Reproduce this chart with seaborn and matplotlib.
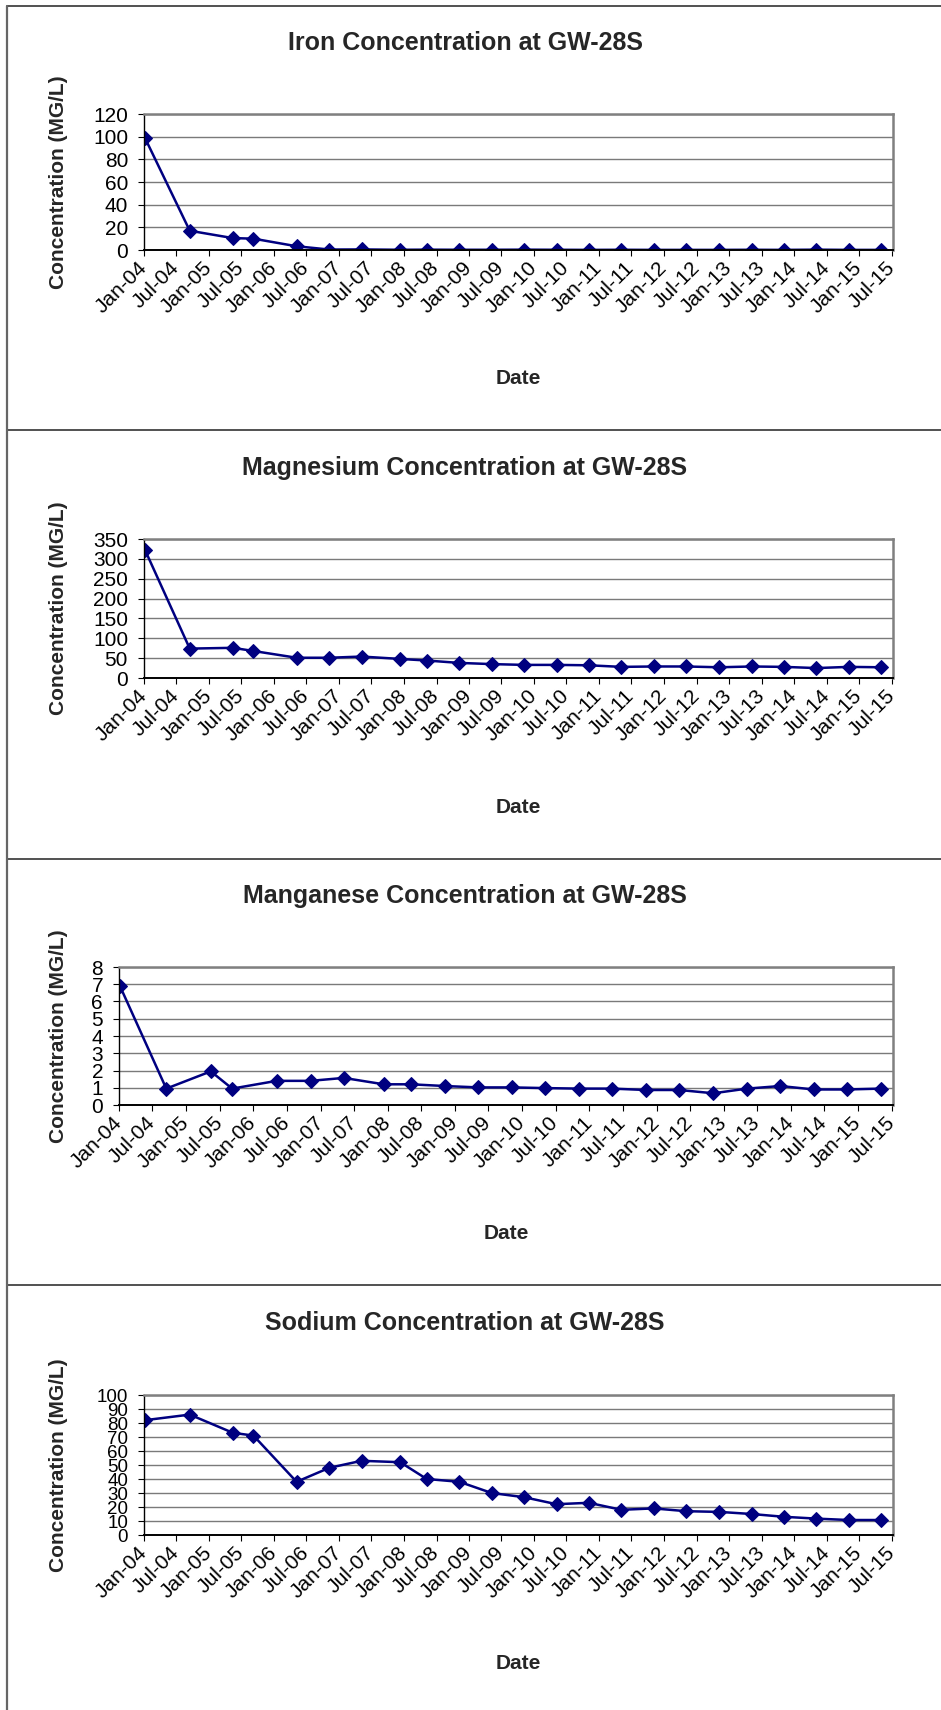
import matplotlib
matplotlib.use("Agg")
import matplotlib.pyplot as plt
from matplotlib.lines import Line2D
import pandas as pd
import seaborn as sns

# ---------------- data ----------------
sample_dates = ["2004-01-06", "2004-09-14", "2005-05-14", "2005-09-07", "2006-05-07",
                "2006-11-07", "2007-05-07", "2007-12-10", "2008-05-07", "2008-11-06",
                "2009-05-07", "2009-11-05", "2010-05-06", "2010-11-04", "2011-05-05",
                "2011-11-03", "2012-05-03", "2012-11-05", "2013-05-06", "2013-11-04",
                "2014-05-05", "2014-11-03", "2015-05-04"]

iron = [99, 17, 10.5, 10, 3.3, 0.4, 0.5, 0.2, 0.3, 0.2, 0.2, 0.3, 0.2, 0.1, 0.2,
        0.1, 0.1, 0.1, 0.2, 0.1, 0.3, 0.1, 0.1]
magnesium = [323, 74, 76, 68, 51, 51, 54, 48, 44, 38, 35, 33, 33, 32, 28,
             29, 29, 27, 29, 28, 25, 28, 27]
manganese = [6.9, 0.95, 1.95, 0.95, 1.4, 1.4, 1.57, 1.2, 1.2, 1.1, 1.02, 1.02, 0.98,
             0.95, 0.95, 0.87, 0.87, 0.68, 0.95, 1.1, 0.9, 0.9, 0.95]
sodium = [82, 86, 73, 71, 38, 48, 53, 52, 40, 38, 30, 27, 22, 23, 18, 19, 17, 16.5,
          15, 13, 11.7, 10.7, 10.7]

titles = ["Iron Concentration at GW-28S", "Magnesium Concentration at GW-28S",
          "Manganese Concentration at GW-28S", "Sodium Concentration at GW-28S"]
y_max = [120, 350, 8, 100]
y_step = [20, 50, 1, 10]
y_label = "Concentration (MG/L)"
x_label = "Date"
tick_start, tick_end = "2004-01-01", "2015-07-01"

# ---------------- style ----------------
sns.set_style("white")
plt.rcParams['font.family'] = ['Liberation Sans', 'DejaVu Sans']

W, H = 941, 1710
fig = plt.figure(figsize=(W / 100, H / 100), dpi=100)

# panel layout in pixels: axes left, top, bottom ; title y ; date y ; y tick size
layout = [
    dict(left=144, top=114, bottom=250, title_y=43, date_y=378, ysize=15),
    dict(left=144, top=539, bottom=678, title_y=468, date_y=807, ysize=15),
    dict(left=119, top=967, bottom=1105, title_y=896, date_y=1233, ysize=15),
    dict(left=144, top=1395, bottom=1535, title_y=1323, date_y=1663, ysize=13.5),
]
right = 893
navy = "#000080"

dates = pd.to_datetime(sample_dates)
series = [iron, magnesium, manganese, sodium]
ticks = pd.date_range(tick_start, tick_end, freq="6MS")
tick_labels = [t.strftime("%b-%y") for t in ticks]

for vals, title, ymax, ystep, lay in zip(series, titles, y_max, y_step, layout):
    l, t, b = lay["left"], lay["top"], lay["bottom"]
    ax = fig.add_axes([l / W, 1 - b / H, (right - l) / W, (b - t) / H])
    df = pd.DataFrame({"date": dates, "value": vals})
    sns.lineplot(data=df, x="date", y="value", ax=ax, color=navy, linewidth=1.8,
                 marker="D", markersize=6.8, markeredgecolor=navy, markerfacecolor=navy)
    ax.set_xlim(pd.Timestamp("2004-01-01"), pd.Timestamp("2015-07-09"))
    ax.set_ylim(0, ymax)
    ax.set_yticks(range(0, ymax + 1, ystep))
    ax.set_xticks(ticks)
    ax.set_xticklabels(tick_labels, rotation=45, ha="right", va="center",
                       rotation_mode="anchor")
    ax.set_xlabel("")
    ax.set_ylabel("")
    ax.grid(axis="y", color="#7a7a7a", linewidth=1.0)
    ax.grid(axis="x", visible=False)
    ax.set_axisbelow(True)
    for side in ("top", "right"):
        ax.spines[side].set_color("#808080")
        ax.spines[side].set_linewidth(1.8)
    ax.spines["left"].set_color("#000000")
    ax.spines["left"].set_linewidth(1.0)
    ax.spines["bottom"].set_color("#000000")
    ax.spines["bottom"].set_linewidth(1.4)
    ax.tick_params(axis="x", direction="out", length=4.5, width=0.8, color="black",
                   labelsize=15, pad=6, bottom=True)
    ax.tick_params(axis="y", direction="out", length=4.5, width=0.8, color="black",
                   labelsize=lay["ysize"], pad=7, left=True)
    for lab in ax.get_xticklabels() + ax.get_yticklabels():
        lab.set_color("black")

    fig.text(465 / W, 1 - lay["title_y"] / H, title, ha="center", va="center",
             fontsize=18, fontweight="bold")
    fig.text(58 / W, 1 - ((t + b) / 2) / H, y_label, ha="center", va="center",
             rotation=90, fontsize=15, fontweight="bold")
    fig.text(((l + right) / 2) / W, 1 - lay["date_y"] / H, x_label, ha="center",
             va="center", fontsize=15, fontweight="bold")

# panel borders
for y in (6, 430, 859, 1285):
    fig.add_artist(Line2D([7 / W, 1], [1 - y / H, 1 - y / H], transform=fig.transFigure,
                          color="#333333", linewidth=1.2))
fig.add_artist(Line2D([7 / W, 7 / W], [1 - 6 / H, 0], transform=fig.transFigure,
                      color="#666666", linewidth=1.6))

fig.savefig("out.png", dpi=100)
